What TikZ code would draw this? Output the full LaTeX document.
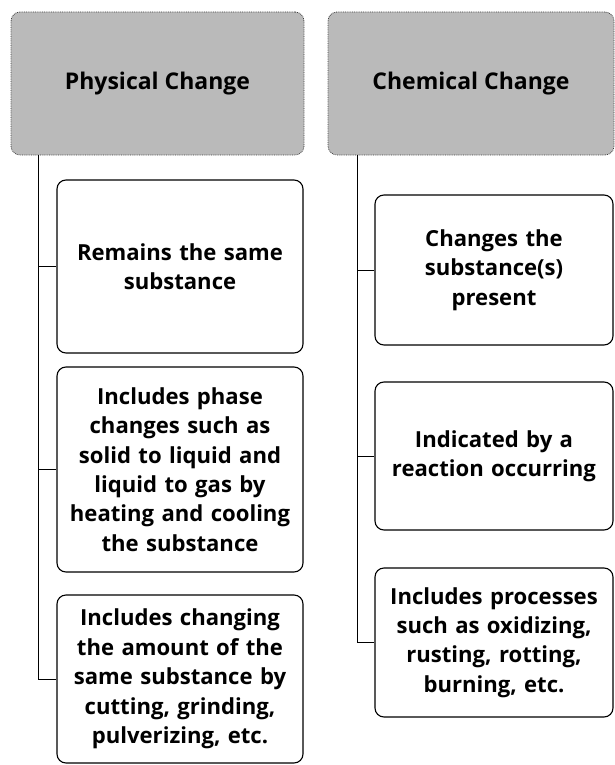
\documentclass[tikz,border=0pt]{standalone}
\usepackage{fontspec}
\setmainfont{Open Sans}
\begin{document}
\begin{tikzpicture}[x=1pt,y=-1pt,
  hdr/.style={draw=black!75, densely dotted, line width=0.8pt, rounded corners=9pt, fill=black!27, font=\bfseries\fontsize{23}{29}\selectfont, align=center, inner sep=0pt},
  box/.style={draw=black, line width=1.1pt, rounded corners=9pt, fill=white, font=\bfseries\fontsize{22.1}{29.4}\selectfont, align=center, inner sep=0pt},
  conn/.style={draw=black, line width=1pt}]
\useasboundingbox (0,0) rectangle (615,765);
\node[hdr, minimum width=293pt, minimum height=143pt] (hL) at (157.5,83.5) {Physical Change};
\node[hdr, minimum width=286pt, minimum height=143pt] (hR) at (471,83.5) {Chemical Change};
% left column
\node[box, minimum width=246pt, minimum height=173pt, text width=244pt] (L1) at (180,266.5) {Remains the same\\substance};
\node[box, minimum width=246pt, minimum height=205pt, text width=244pt] (L2) at (180,469.5) {Includes phase\\changes such as\\solid to liquid and\\liquid to gas by\\heating and cooling\\the substance};
\node[box, minimum width=246pt, minimum height=168pt, text width=244pt] (L3) at (180,679) {Includes changing\\the amount of the\\same substance by\\cutting, grinding,\\pulverizing, etc.};
% right column
\node[box, minimum width=238pt, minimum height=150pt, text width=236pt] (R1) at (494,270) {Changes the\\substance(s)\\present};
\node[box, minimum width=238pt, minimum height=148pt, text width=236pt] (R2) at (494,456) {Indicated by a\\reaction occurring};
\node[box, minimum width=238pt, minimum height=149pt, text width=236pt] (R3) at (494,642.5) {Includes processes\\such as oxidizing,\\rusting, rotting,\\burning, etc.};
% connectors
\coordinate (lt) at (38,155);
\coordinate (rt) at (357,155);
\draw[conn] (lt) |- (L3.west);
\draw[conn] (lt |- L1.west) -- (L1.west);
\draw[conn] (lt |- L2.west) -- (L2.west);
\draw[conn] (rt) |- (R3.west);
\draw[conn] (rt |- R1.west) -- (R1.west);
\draw[conn] (rt |- R2.west) -- (R2.west);
\end{tikzpicture}
\end{document}
